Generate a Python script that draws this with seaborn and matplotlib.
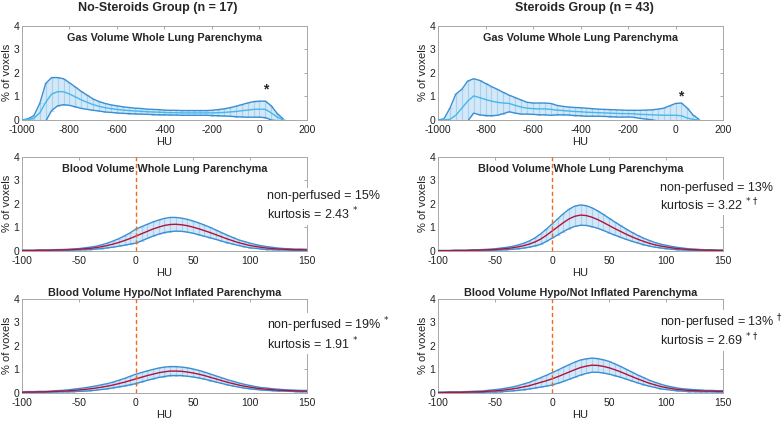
import numpy as np
import matplotlib
matplotlib.use("Agg")
import matplotlib.pyplot as plt
import seaborn as sns

sns.set_theme(style="white")
plt.rcParams["font.family"] = ["Liberation Sans", "DejaVu Sans"]
plt.rcParams["mathtext.fontset"] = "dejavusans"
plt.rcParams["axes.unicode_minus"] = False

# ---- data ----
gas_hu = [-1000, -975, -950, -925, -900, -875, -850, -825, -800, -775, -750, -725,
          -700, -675, -650, -625, -600, -575, -550, -525, -500, -475, -450, -425,
          -400, -375, -350, -325, -300, -275, -250, -225, -200, -175, -150, -125,
          -100, -75, -50, -25, 0, 25, 50, 75, 100]

gas_mean_nosteroid = [0.0, 0.02, 0.08, 0.3, 0.75, 1.1, 1.2, 1.2, 1.1, 0.98, 0.85, 0.75,
                      0.65, 0.58, 0.52, 0.48, 0.45, 0.42, 0.40, 0.38, 0.37, 0.35, 0.34, 0.33,
                      0.32, 0.31, 0.31, 0.30, 0.30, 0.30, 0.30, 0.30, 0.30, 0.31, 0.32, 0.34,
                      0.36, 0.39, 0.42, 0.45, 0.46, 0.45, 0.3, 0.12, 0.02]
gas_sd_nosteroid = [0.0, 0.03, 0.1, 0.4, 0.8, 0.7, 0.6, 0.55, 0.48, 0.42, 0.36, 0.3,
                    0.24, 0.2, 0.18, 0.16, 0.15, 0.14, 0.13, 0.12, 0.12, 0.11, 0.11, 0.11,
                    0.1, 0.1, 0.1, 0.1, 0.1, 0.1, 0.1, 0.1, 0.11, 0.13, 0.15, 0.18,
                    0.22, 0.26, 0.3, 0.33, 0.34, 0.35, 0.3, 0.15, 0.03]

gas_mean_steroid = [0.0, 0.0, 0.03, 0.2, 0.5, 0.8, 1.02, 0.95, 0.87, 0.8, 0.75, 0.72,
                    0.7, 0.62, 0.55, 0.5, 0.48, 0.47, 0.47, 0.45, 0.42, 0.4, 0.38, 0.36,
                    0.35, 0.33, 0.32, 0.31, 0.30, 0.29, 0.28, 0.27, 0.27, 0.26, 0.24, 0.23,
                    0.22, 0.21, 0.2, 0.2, 0.2, 0.18, 0.08, 0.02, 0.0]
gas_sd_steroid = [0.0, 0.05, 0.47, 0.9, 0.8, 0.85, 0.73, 0.73, 0.68, 0.62, 0.55, 0.45,
                  0.35, 0.33, 0.3, 0.25, 0.24, 0.25, 0.25, 0.25, 0.2, 0.18, 0.17, 0.17,
                  0.17, 0.17, 0.16, 0.15, 0.15, 0.15, 0.15, 0.15, 0.14, 0.15, 0.17, 0.19,
                  0.21, 0.25, 0.3, 0.4, 0.5, 0.54, 0.42, 0.18, 0.02]

blood_hu = list(range(-100, 151, 5))

whole_mean_nosteroid = [0.02, 0.02, 0.02, 0.03, 0.03, 0.03, 0.04, 0.04, 0.05, 0.06, 0.07,
                        0.09, 0.11, 0.14, 0.18, 0.23, 0.29, 0.36, 0.44, 0.53, 0.63,
                        0.73, 0.83, 0.93, 1.01, 1.08, 1.12, 1.13, 1.11, 1.07, 1.01,
                        0.94, 0.86, 0.78, 0.69, 0.6, 0.51, 0.43, 0.35, 0.29, 0.23,
                        0.19, 0.15, 0.12, 0.1, 0.08, 0.07, 0.06, 0.05, 0.05, 0.04]
whole_sd_nosteroid = [0.01, 0.01, 0.01, 0.01, 0.01, 0.01, 0.015, 0.02, 0.02, 0.025, 0.03,
                      0.04, 0.05, 0.06, 0.08, 0.1, 0.13, 0.16, 0.2, 0.24, 0.3,
                      0.3, 0.3, 0.3, 0.3, 0.3, 0.3, 0.29, 0.28, 0.27, 0.26,
                      0.25, 0.24, 0.22, 0.2, 0.18, 0.16, 0.14, 0.12, 0.11, 0.1,
                      0.08, 0.07, 0.06, 0.05, 0.04, 0.03, 0.03, 0.03, 0.03, 0.03]

whole_mean_steroid = [0.01, 0.01, 0.01, 0.02, 0.02, 0.02, 0.03, 0.03, 0.04, 0.05, 0.06,
                      0.08, 0.1, 0.13, 0.17, 0.22, 0.29, 0.38, 0.5, 0.66, 0.84,
                      1.02, 1.2, 1.36, 1.47, 1.52, 1.5, 1.43, 1.33, 1.21, 1.08,
                      0.95, 0.83, 0.71, 0.6, 0.5, 0.41, 0.33, 0.26, 0.21, 0.17,
                      0.13, 0.1, 0.08, 0.06, 0.05, 0.04, 0.03, 0.03, 0.02, 0.02]
whole_sd_steroid = [0.01, 0.01, 0.01, 0.01, 0.01, 0.01, 0.015, 0.02, 0.02, 0.025, 0.03,
                    0.04, 0.05, 0.06, 0.08, 0.1, 0.13, 0.17, 0.22, 0.26, 0.3,
                    0.34, 0.38, 0.41, 0.43, 0.43, 0.42, 0.4, 0.37, 0.34, 0.31,
                    0.28, 0.25, 0.22, 0.19, 0.16, 0.14, 0.12, 0.1, 0.08, 0.07,
                    0.06, 0.05, 0.04, 0.03, 0.03, 0.02, 0.02, 0.02, 0.02, 0.02]

hypo_mean_nosteroid = [0.03, 0.04, 0.04, 0.05, 0.05, 0.06, 0.07, 0.08, 0.09, 0.11, 0.13,
                       0.15, 0.18, 0.21, 0.25, 0.29, 0.34, 0.4, 0.46, 0.53, 0.6,
                       0.67, 0.74, 0.8, 0.86, 0.9, 0.93, 0.93, 0.92, 0.89, 0.85,
                       0.8, 0.74, 0.67, 0.6, 0.53, 0.46, 0.4, 0.34, 0.29, 0.25,
                       0.21, 0.18, 0.16, 0.14, 0.12, 0.11, 0.1, 0.09, 0.08, 0.08]
hypo_sd_nosteroid = [0.02, 0.02, 0.02, 0.02, 0.02, 0.02, 0.03, 0.03, 0.04, 0.05, 0.06,
                     0.07, 0.08, 0.09, 0.1, 0.11, 0.12, 0.14, 0.16, 0.18, 0.2,
                     0.2, 0.2, 0.2, 0.2, 0.2, 0.19, 0.19, 0.18, 0.18, 0.17,
                     0.16, 0.15, 0.14, 0.13, 0.12, 0.11, 0.1, 0.09, 0.08, 0.07,
                     0.06, 0.05, 0.05, 0.04, 0.04, 0.03, 0.03, 0.03, 0.03, 0.03]

hypo_mean_steroid = [0.02, 0.02, 0.03, 0.03, 0.03, 0.04, 0.05, 0.05, 0.06, 0.08, 0.09,
                     0.11, 0.14, 0.17, 0.21, 0.26, 0.31, 0.38, 0.45, 0.52, 0.6,
                     0.69, 0.79, 0.89, 0.99, 1.08, 1.14, 1.18, 1.17, 1.13, 1.07,
                     0.99, 0.9, 0.8, 0.7, 0.6, 0.51, 0.42, 0.35, 0.28, 0.23,
                     0.19, 0.15, 0.13, 0.11, 0.1, 0.09, 0.08, 0.08, 0.07, 0.07]
hypo_sd_steroid = [0.02, 0.02, 0.02, 0.02, 0.02, 0.02, 0.02, 0.03, 0.03, 0.04, 0.05,
                   0.06, 0.07, 0.08, 0.1, 0.12, 0.14, 0.17, 0.2, 0.23, 0.26,
                   0.28, 0.3, 0.31, 0.32, 0.32, 0.31, 0.3, 0.29, 0.28, 0.27,
                   0.25, 0.23, 0.21, 0.19, 0.17, 0.15, 0.13, 0.11, 0.1, 0.08,
                   0.07, 0.06, 0.05, 0.05, 0.04, 0.04, 0.03, 0.03, 0.03, 0.03]

group_titles = ["No-Steroids Group (n = 17)", "Steroids Group (n = 43)"]
panel_titles = ["Gas Volume Whole Lung Parenchyma", "Blood Volume Whole Lung Parenchyma",
                "Blood Volume Hypo/Not Inflated Parenchyma"]
stats_nosteroid = [("non-perfused = 15%", "kurtosis = 2.43 $^{*}$"),
                   ("non-perfused = 19% $^{*}$", "kurtosis = 1.91 $^{*}$")]
stats_steroid = [("non-perfused = 13%", r"kurtosis = 3.22 $^{*\,\dagger}$"),
                 (r"non-perfused = 13% $^{\dagger}$", r"kurtosis = 2.69 $^{*\,\dagger}$")]
gas_star_pos = [(25, 1.3), (22, 1.0)]

BAR_C = "#a9d2f0"
FILL_C = "#d3e8f8"
EDGE_C = "#3a8fd4"
GAS_MEAN_C = "#45b7ea"
BLOOD_MEAN_C = "#b3123c"
VLINE_C = "#ee6a22"


def draw_panel(ax, x, mean, sd, mean_color):
    x = np.array(x, dtype=float)
    mean = np.array(mean)
    sd = np.array(sd)
    ax.fill_between(x, mean - sd, mean + sd, color=FILL_C, lw=0, zorder=1)
    ax.errorbar(x, mean, yerr=sd, fmt="none", ecolor=BAR_C, elinewidth=0.8,
                capsize=1.2, capthick=0.6, zorder=2)
    sns.lineplot(x=x, y=mean + sd, ax=ax, color=EDGE_C, lw=1.0, zorder=3)
    sns.lineplot(x=x, y=mean - sd, ax=ax, color=EDGE_C, lw=1.0, zorder=3)
    sns.lineplot(x=x, y=mean, ax=ax, color=mean_color, lw=1.0, zorder=4)


def style_axes(ax, xlim, xticks):
    ax.set_xlim(*xlim)
    ax.set_ylim(0, 4)
    ax.set_xticks(xticks)
    ax.set_yticks([0, 1, 2, 3, 4])
    ax.tick_params(direction="in", length=2.5, width=0.6, colors="#9a9a9a",
                   labelcolor="#222222", labelsize=7.5, top=True, right=True, pad=2)
    ax.tick_params(axis="x", pad=3.5)
    for s in ax.spines.values():
        s.set_color("#a8a8a8")
        s.set_linewidth(0.7)
    ax.set_xlabel("HU", fontsize=8, color="#222222", labelpad=1.5)
    ax.set_ylabel("% of voxels", fontsize=8, color="#222222", labelpad=1)


fig = plt.figure(figsize=(7.84, 4.21), dpi=100)
lefts = [0.028, 0.5587]
bottoms = [0.715, 0.404, 0.0665]
w, h = 0.3635, 0.224

groups = [
    (gas_mean_nosteroid, gas_sd_nosteroid, whole_mean_nosteroid, whole_sd_nosteroid,
     hypo_mean_nosteroid, hypo_sd_nosteroid, stats_nosteroid, 0.86),
    (gas_mean_steroid, gas_sd_steroid, whole_mean_steroid, whole_sd_steroid,
     hypo_mean_steroid, hypo_sd_steroid, stats_steroid, 0.78),
]

for col, (gm, gs, wm, ws, hm, hs, stats, tx) in enumerate(groups):
    # gas
    ax = fig.add_axes([lefts[col], bottoms[0], w, h])
    draw_panel(ax, gas_hu, gm, gs, GAS_MEAN_C)
    style_axes(ax, (-1000, 200), [-1000, -800, -600, -400, -200, 0, 200])
    ax.text(0.5, 0.87, panel_titles[0], transform=ax.transAxes, ha="center",
            va="center", fontsize=7.8, fontweight="bold")
    sx, sy = gas_star_pos[col]
    ax.text(sx, sy, "*", ha="center", va="center", fontsize=10, fontweight="bold")

    # blood whole
    ax = fig.add_axes([lefts[col], bottoms[1], w, h])
    draw_panel(ax, blood_hu, wm, ws, BLOOD_MEAN_C)
    style_axes(ax, (-100, 150), [-100, -50, 0, 50, 100, 150])
    ax.axvline(0, color=VLINE_C, ls=(0, (3, 2)), lw=1.0, zorder=5)
    ax.text(0.5, 0.87, panel_titles[1], transform=ax.transAxes, ha="center",
            va="center", fontsize=7.8, fontweight="bold", zorder=6)
    ys = [0.58, 0.39] if col == 0 else [0.67, 0.49]
    for t, y in zip(stats[0], ys):
        ax.text(tx, y, t, transform=ax.transAxes, ha="left", va="center", fontsize=9,
                color="#222222", zorder=7,
                bbox=dict(facecolor="white", edgecolor="none", pad=1.5))

    # blood hypo
    ax = fig.add_axes([lefts[col], bottoms[2], w, h])
    draw_panel(ax, blood_hu, hm, hs, BLOOD_MEAN_C)
    style_axes(ax, (-100, 150), [-100, -50, 0, 50, 100, 150])
    ax.axvline(0, color=VLINE_C, ls=(0, (3, 2)), lw=1.0, zorder=5)
    ax.set_title(panel_titles[2], fontsize=7.8, fontweight="bold", pad=2)
    ys = [0.72, 0.52] if col == 0 else [0.75, 0.56]
    for t, y in zip(stats[1], ys):
        ax.text(tx, y, t, transform=ax.transAxes, ha="left", va="center", fontsize=9,
                color="#222222", zorder=7,
                bbox=dict(facecolor="white", edgecolor="none", pad=1.5))

    fig.text(lefts[col] + w / 2 - (0.008 if col == 0 else -0.005), 0.982,
             group_titles[col], ha="center", va="center", fontsize=9, fontweight="bold")

fig.savefig("out.png", dpi=100)
